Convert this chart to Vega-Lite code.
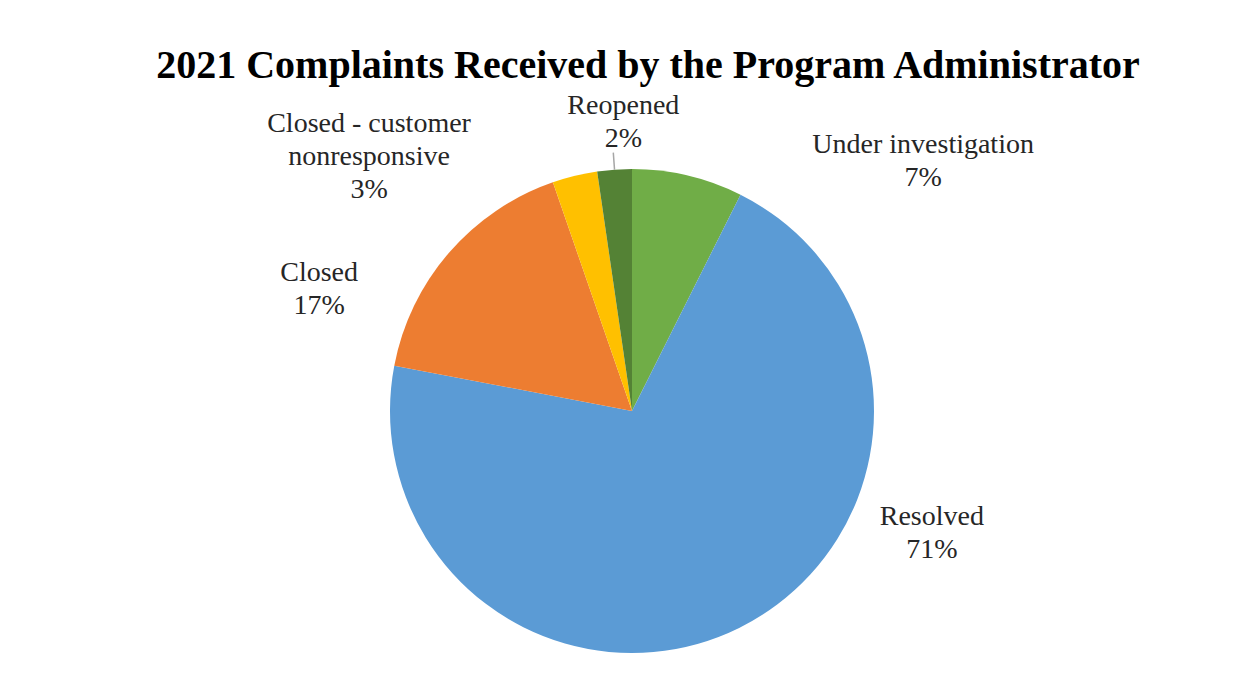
{
  "$schema": "https://vega.github.io/schema/vega-lite/v6.json",
  "width": 1228,
  "height": 526,
  "autosize": {"type": "none"},
  "padding": {"left": 18, "top": 148, "right": 0, "bottom": 0},
  "background": "white",
  "config": {
    "view": {"stroke": null},
    "text": {"font": "Liberation Serif", "fontSize": 28, "lineHeight": 33, "lineBreak": "\n", "align": "center", "baseline": "middle", "color": "#262626"}
  },
  "title": {
    "text": "2021 Complaints Received by the Program Administrator",
    "font": "Liberation Serif",
    "fontSize": 40,
    "fontWeight": "bold",
    "color": "#000000",
    "anchor": "middle",
    "frame": "group",
    "dx": 16,
    "offset": -26,
    "baseline": "alphabetic"
  },
  "data": {
    "values": [
      {"category": "Under investigation", "share": 7.4},
      {"category": "Resolved", "share": 70.6},
      {"category": "Closed", "share": 16.7},
      {"category": "Closed - customer nonresponsive", "share": 3.0},
      {"category": "Reopened", "share": 2.3}
    ]
  },
  "transform": [
    {"calculate": "indexof(['Under investigation','Resolved','Closed','Closed - customer nonresponsive','Reopened'], datum.category)", "as": "slot"},
    {"stack": "share", "groupby": [], "sort": [{"field": "slot", "order": "ascending"}], "as": ["start", "end"]},
    {"calculate": "(datum.start + datum.end) / 2", "as": "mid"},
    {"calculate": "replace(datum.category, ' nonresponsive', '\\nnonresponsive') + '\\n' + format(datum.share / 100, '.0%')", "as": "label"}
  ],
  "layer": [
    {
      "mark": {"type": "arc", "radius": 242},
      "encoding": {
        "theta": {"field": "start", "type": "quantitative", "scale": {"domain": [0, 100], "nice": false, "zero": true}},
        "theta2": {"field": "end"},
        "color": {
          "field": "category",
          "type": "nominal",
          "scale": {
            "domain": ["Under investigation", "Resolved", "Closed", "Closed - customer nonresponsive", "Reopened"],
            "range": ["#70AD47", "#5B9BD5", "#ED7D31", "#FFC000", "#548235"]
          },
          "legend": null
        }
      }
    },
    {
      "transform": [{"filter": "datum.category === 'Reopened'"}],
      "mark": {"type": "arc", "radius": 259, "radius2": 242, "fill": null, "stroke": "#A6A6A6", "strokeWidth": 1.5},
      "encoding": {"theta": {"field": "mid", "type": "quantitative"}, "theta2": {"field": "mid"}}
    },
    {
      "transform": [{"filter": "datum.category === 'Under investigation'"}],
      "mark": {"type": "text", "radius": 300, "dx": 222, "dy": 25.5},
      "encoding": {"theta": {"field": "mid", "type": "quantitative"}, "text": {"field": "label"}}
    },
    {
      "transform": [{"filter": "datum.category === 'Resolved'"}],
      "mark": {"type": "text", "radius": 300, "dx": 167, "dy": -162.5},
      "encoding": {"theta": {"field": "mid", "type": "quantitative"}, "text": {"field": "label"}}
    },
    {
      "transform": [{"filter": "datum.category === 'Closed'"}],
      "mark": {"type": "text", "radius": 300, "dx": -86, "dy": 58.5},
      "encoding": {"theta": {"field": "mid", "type": "quantitative"}, "text": {"field": "label"}}
    },
    {
      "transform": [{"filter": "datum.category === 'Closed - customer nonresponsive'"}],
      "mark": {"type": "text", "radius": 300, "dx": -192, "dy": 4},
      "encoding": {"theta": {"field": "mid", "type": "quantitative"}, "text": {"field": "label"}}
    },
    {
      "transform": [{"filter": "datum.category === 'Reopened'"}],
      "mark": {"type": "text", "radius": 300, "dx": 13, "dy": -5.5},
      "encoding": {"theta": {"field": "mid", "type": "quantitative"}, "text": {"field": "label"}}
    }
  ]
}
